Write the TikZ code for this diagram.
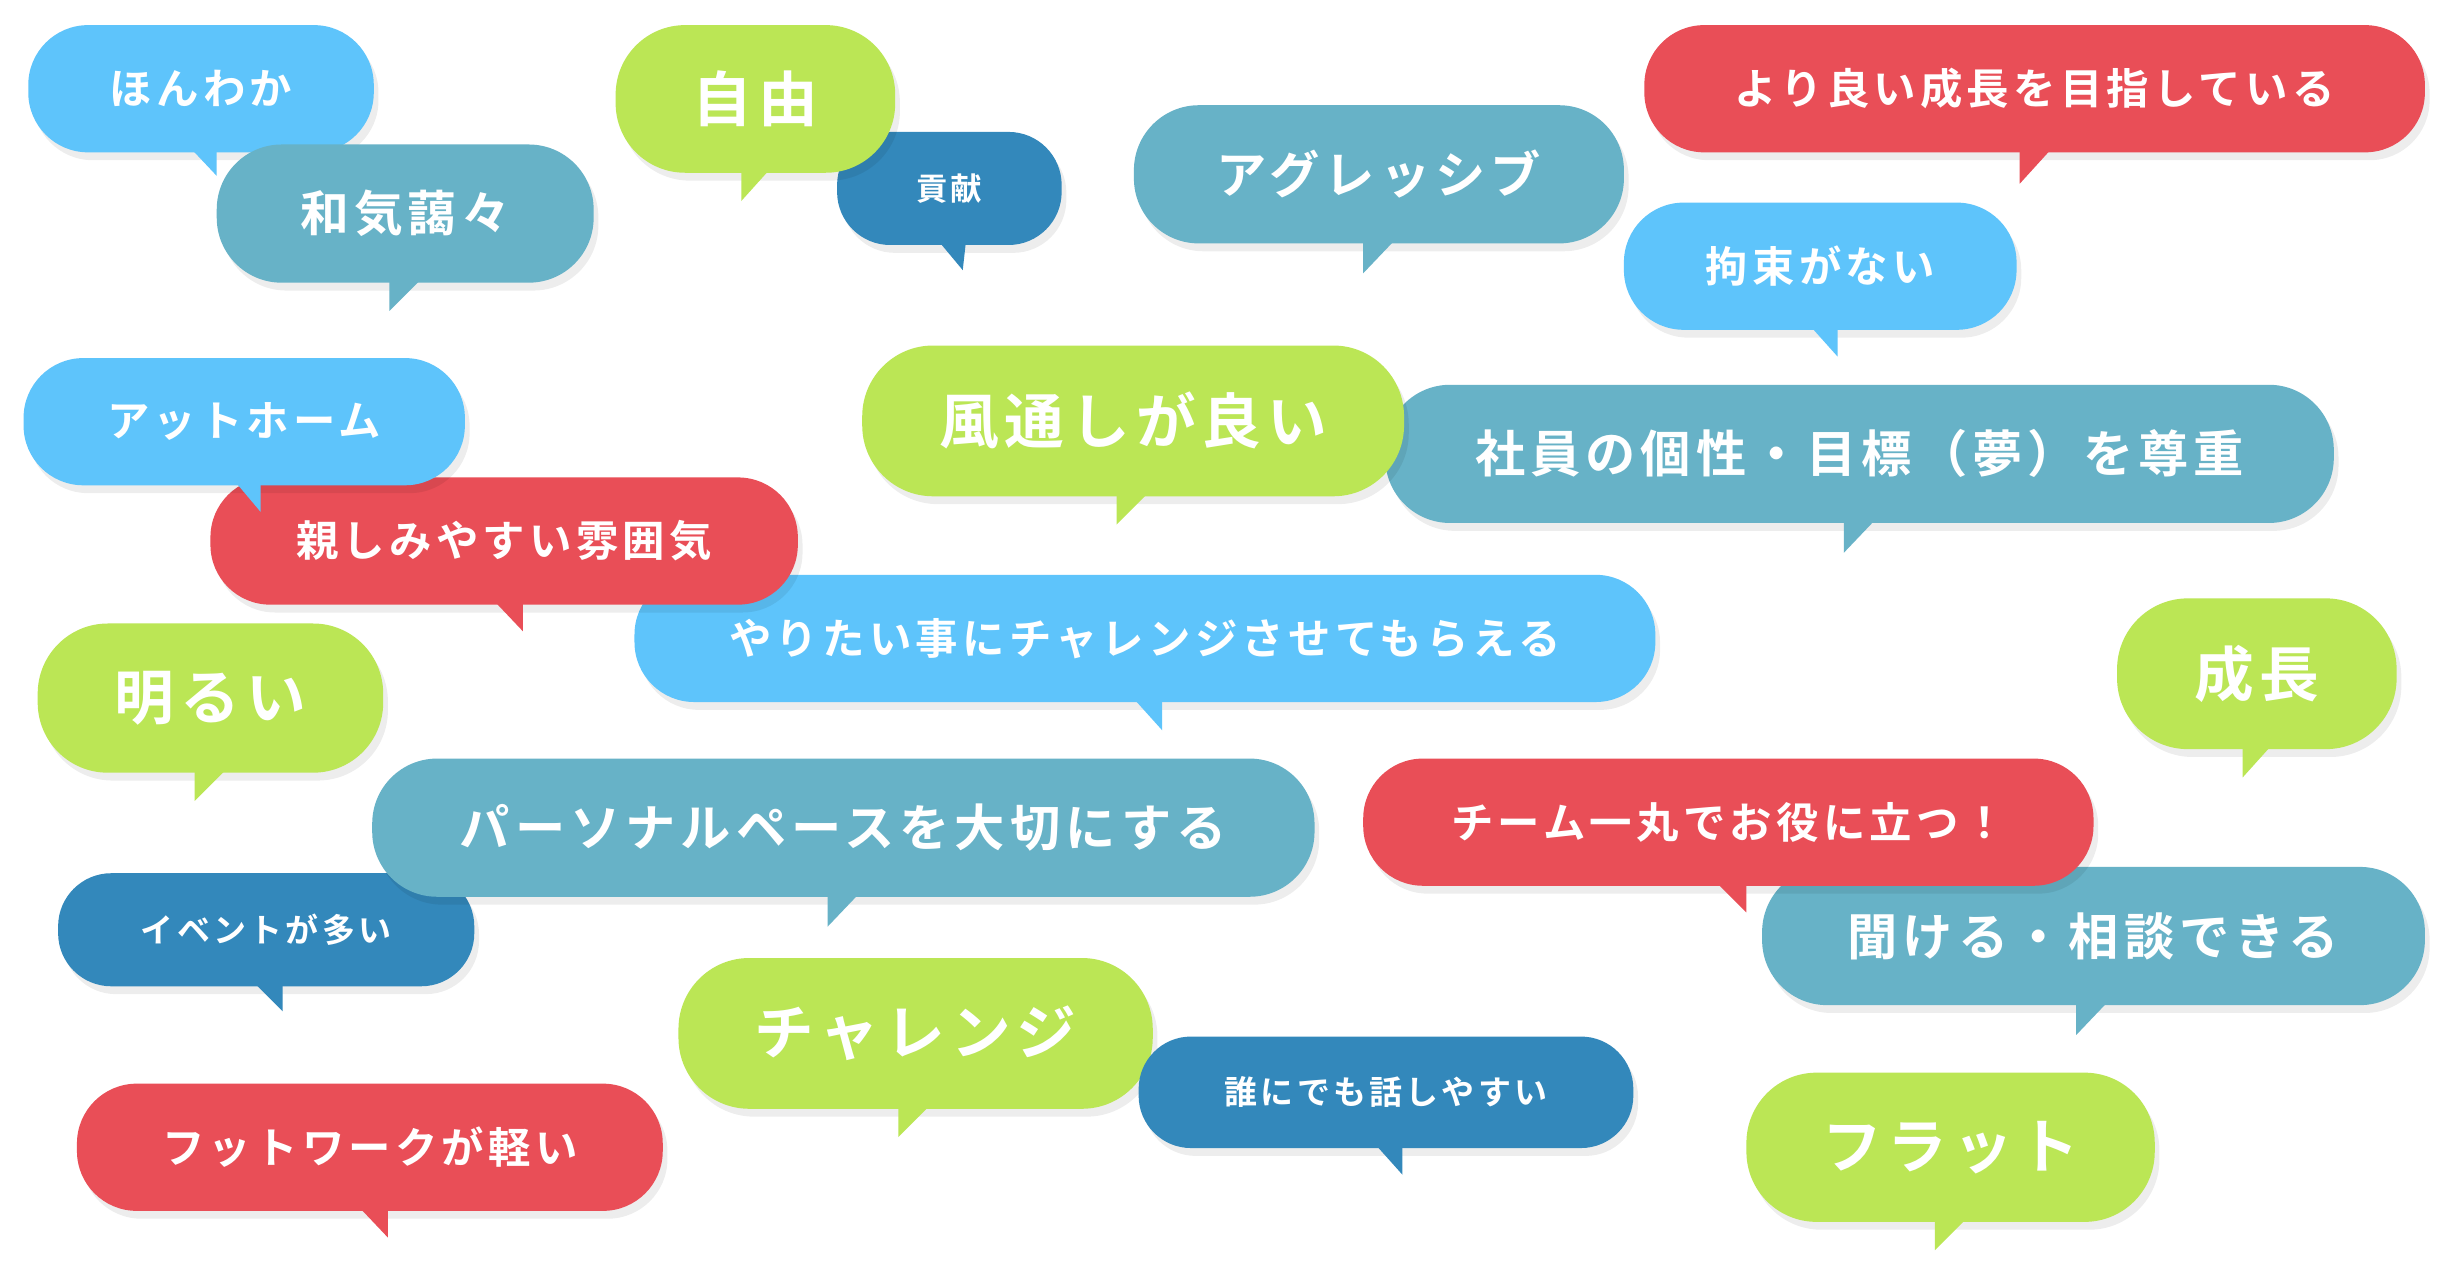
\documentclass[tikz,border=0pt]{standalone}
\usepackage{fontspec}
\setmainfont{Noto Sans CJK JP}[BoldFont={Noto Sans CJK JP Bold},LetterSpace=10]
\definecolor{cLB}{HTML}{5EC4FB}
\definecolor{cTL}{HTML}{67B2C7}
\definecolor{cDB}{HTML}{3388BB}
\definecolor{cGR}{HTML}{BBE655}
\definecolor{cRD}{HTML}{E94E57}
\tikzset{bubtext/.style={text=white,inner sep=0pt}}
% (l,t,r,b)(tailL,tailR,tipx,tipy){colour}
\def\bub(#1,#2,#3,#4)(#5,#6,#7,#8)#9{%
  \pgfmathsetmacro\rr{(#4-#2)*0.47}%
  \fill[black,opacity=0.07,rounded corners=\rr pt] (#1+3,#2+5) rectangle (#3+3,#4+5);
  \fill[#9] (#5,#4-2) -- (#7,#8) -- (#6,#4-2) -- cycle;
  \fill[#9,rounded corners=\rr pt] (#1,#2) rectangle (#3,#4);
  \coordinate (bubc) at ({(#1+#3)/2},{(#2+#4)/2});
}
\newcommand\bubnode[3]{\node[bubtext,font=\fontsize{#2}{#2}\selectfont\bfseries] (#1) at (bubc) {#3};}
\begin{document}
\begin{tikzpicture}[x=1pt,y=-1pt]
\useasboundingbox[fill=white] (0,0) rectangle (1560,815.6);
\bub(18,16,238,97)(122,138,138,112){cLB}\bubnode{b1}{27}{ほんわか}
\bub(138,92,378,180)(248,268,248,198){cTL}\bubnode{b2}{31}{和気藹々}
\bub(533,84,676,156)(598,615,613,172){cDB}\bubnode{b4}{20}{貢献}
\bub(392,16,570,110)(472,490,472,128){cGR}\bubnode{b3}{38}{自由}
\bub(722,67,1034,155)(868,888,868,174){cTL}\bubnode{b5}{32}{アグレッシブ}
\bub(1047,16,1544,97)(1286,1306,1286,117){cRD}\bubnode{b6}{27}{より良い成長を目指している}
\bub(1034,129,1284,210)(1153,1170,1170,227){cLB}\bubnode{b7}{27}{拘束がない}
\bub(404,366,1054,447)(722,740,740,465){cLB}\bubnode{b12}{27}{やりたい事にチャレンジさせてもらえる}
\bub(134,304,508,385)(315,333,333,402){cRD}\bubnode{b9}{27}{親しみやすい雰囲気}
\bub(15,228,296,309)(150,166,166,326){cLB}\bubnode{b8}{27}{アットホーム}
\bub(882,245,1486,333)(1174,1194,1174,352){cTL}\bubnode{b11}{32}{社員の個性・目標（夢）を尊重}
\bub(549,220,894,316)(711,731,711,334){cGR}\bubnode{b10}{38}{風通しが良い}
\bub(24,397,244,492)(124,144,124,510){cGR}\bubnode{b13}{38}{明るい}
\bub(1348,381,1526,477)(1428,1446,1428,495){cGR}\bubnode{b14}{38}{成長}
\bub(37,556,302,628)(162,180,180,644){cDB}\bubnode{b17}{21}{イベントが多い}
\bub(237,483,837,571)(527,547,527,590){cTL}\bubnode{b15}{32}{パーソナルペースを大切にする}
\bub(1122,552,1544,640)(1322,1342,1322,659){cTL}\bubnode{b18}{32}{聞ける・相談できる}
\bub(868,483,1333,564)(1093,1112,1112,581){cRD}\bubnode{b16}{27}{チーム一丸でお役に立つ！}
\bub(432,610,734,706)(572,592,572,724){cGR}\bubnode{b19}{38}{チャレンジ}
\bub(725,660,1040,731)(876,893,893,748){cDB}\bubnode{b20}{21}{誰にでも話しやすい}
\bub(49,690,422,771)(229,247,247,788){cRD}\bubnode{b21}{27}{フットワークが軽い}
\bub(1112,683,1372,778)(1232,1252,1232,796){cGR}\bubnode{b22}{38}{フラット}
\end{tikzpicture}
\end{document}
